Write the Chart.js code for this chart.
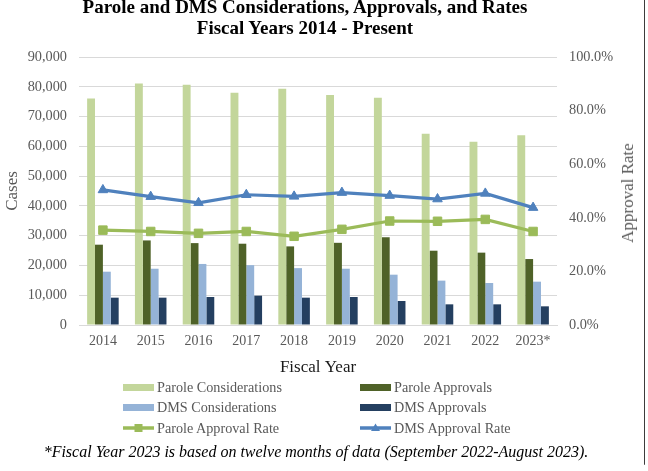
<!DOCTYPE html>
<html><head><meta charset="utf-8">
<script src="https://cdn.jsdelivr.net/npm/chart.js@4"></script>
<style>
body{margin:0;background:#fff;}
#wrap{position:relative;width:648px;height:471px;overflow:hidden;font-family:"Liberation Serif","Times New Roman",serif;background:#fff;}
canvas{position:absolute;left:0;top:0;}
#title{position:absolute;left:0;width:610px;top:-3px;text-align:center;font-weight:bold;font-size:19px;line-height:20.5px;color:#000;white-space:nowrap;}
.lg{position:absolute;height:16px;display:flex;align-items:center;font-size:14.2px;color:#595959;white-space:nowrap;}
.sw{width:31px;height:7px;margin-right:3px;}
.lg svg{margin-right:3px;}
#rt{position:absolute;left:628px;top:193px;transform:translate(-50%,-50%) rotate(-90deg);font-size:17px;color:#595959;white-space:nowrap;}
#fn{position:absolute;left:0;width:632px;top:443px;text-align:center;font-style:italic;font-size:16px;color:#000;white-space:nowrap;}
#frame{position:absolute;left:644px;top:-2px;width:0;height:467px;border-right:1.5px solid #3c3c3c;border-bottom-right-radius:3px;}
</style></head>
<body>
<div id="wrap">
<canvas id="c" width="648" height="471"></canvas>
<div id="title">Parole and DMS Considerations, Approvals, and Rates<br>Fiscal Years 2014 - Present</div>
<div id="rt">Approval Rate</div>
<div class="lg" style="left:123px;top:379px"><div class="sw" style="background:#c3d69b"></div>Parole Considerations</div>
<div class="lg" style="left:360px;top:379px"><div class="sw" style="background:#4f6228"></div>Parole Approvals</div>
<div class="lg" style="left:123px;top:399.5px"><div class="sw" style="background:#95b3d7"></div>DMS Considerations</div>
<div class="lg" style="left:360px;top:399.5px"><div class="sw" style="background:#243f60"></div>DMS Approvals</div>
<div class="lg" style="left:123px;top:420px"><svg width="31" height="12"><line x1="0" y1="6" x2="31" y2="6" stroke="#9bbb59" stroke-width="3.5"/><rect x="11.5" y="2" width="8" height="8" fill="#9bbb59"/></svg>Parole Approval Rate</div>
<div class="lg" style="left:360px;top:420px"><svg width="31" height="12"><line x1="0" y1="6" x2="31" y2="6" stroke="#4f81bd" stroke-width="3.5"/><polygon points="15.5,1.5 20,9 11,9" fill="#4f81bd"/></svg>DMS Approval Rate</div>
<div id="fn">*Fiscal Year 2023 is based on twelve months of data (September 2022-August 2023).</div>
<div id="frame"></div>
</div>
<script>
const years = ['2014','2015','2016','2017','2018','2019','2020','2021','2022','2023*'];
const paroleConsiderations = [76100, 81100, 80700, 78000, 79300, 77200, 76300, 64200, 61500, 63700];
const paroleApprovals = [26970, 28400, 27500, 27300, 26400, 27600, 29500, 24950, 24300, 22150];
const dmsConsiderations = [17900, 18900, 20500, 20100, 19100, 18900, 16900, 14900, 14100, 14550];
const dmsApprovals = [9180, 9180, 9400, 9850, 9180, 9400, 8060, 6940, 6940, 6270];
const paroleRate = [35.4, 34.9, 34.2, 34.9, 33.1, 35.7, 38.8, 38.7, 39.4, 34.9];
const dmsRate = [50.4, 47.9, 45.6, 48.6, 48.0, 49.4, 48.3, 47.0, 49.1, 43.8];
const casesTicks = {min: 0, max: 90000, step: 10000};
const rateTicks = {min: 0, max: 100, step: 20};

const FONT = 'Liberation Serif';
new Chart(document.getElementById('c'), {
  type: 'bar',
  data: {
    labels: years,
    datasets: [
      {label: 'Parole Considerations', data: paroleConsiderations, backgroundColor: '#c3d69b', yAxisID: 'y', order: 1},
      {label: 'Parole Approvals', data: paroleApprovals, backgroundColor: '#4f6228', yAxisID: 'y', order: 1},
      {label: 'DMS Considerations', data: dmsConsiderations, backgroundColor: '#95b3d7', yAxisID: 'y', order: 1},
      {label: 'DMS Approvals', data: dmsApprovals, backgroundColor: '#243f60', yAxisID: 'y', order: 1},
      {type: 'line', label: 'Parole Approval Rate', data: paroleRate, yAxisID: 'y1', order: 0,
        borderColor: '#9bbb59', backgroundColor: '#9bbb59', borderWidth: 3.2, tension: 0,
        pointStyle: 'rect', pointRadius: 6, pointBorderWidth: 1, pointBorderColor: '#9bbb59', pointBackgroundColor: '#9bbb59'},
      {type: 'line', label: 'DMS Approval Rate', data: dmsRate, yAxisID: 'y1', order: 0,
        borderColor: '#4f81bd', backgroundColor: '#4f81bd', borderWidth: 3.2, tension: 0,
        pointStyle: 'triangle', pointRadius: 5.5, pointBorderWidth: 1, pointBorderColor: '#4f81bd', pointBackgroundColor: '#4f81bd'}
    ]
  },
  options: {
    responsive: false,
    animation: false,
    devicePixelRatio: 1,
    layout: {padding: {left: 0, right: 0, top: 57, bottom: 93}},
    datasets: {bar: {categoryPercentage: 0.66, barPercentage: 1.0}},
    plugins: {
      legend: {display: false},
      tooltip: {enabled: false},
      title: {display: false}
    },
    scales: {
      x: {
        grid: {display: false},
        border: {display: true, color: '#d9d9d9', width: 1},
        ticks: {color: '#595959', font: {family: FONT, size: 14}, padding: 0},
        title: {display: true, text: 'Fiscal Year', color: '#1a1a1a', font: {family: FONT, size: 17}, padding: {top: 0, bottom: 0}},
        afterFit: s => { s.height = 53; }
      },
      y: {
        position: 'left',
        min: casesTicks.min, max: casesTicks.max,
        ticks: {stepSize: casesTicks.step, color: '#595959', font: {family: FONT, size: 14.3}, padding: 12,
          callback: v => v.toLocaleString('en-US')},
        grid: {color: '#d9d9d9', lineWidth: 1, drawTicks: false},
        border: {display: false},
        title: {display: true, text: 'Cases', color: '#595959', font: {family: FONT, size: 17}, padding: {top: 2, bottom: 0}},
        afterFit: s => { s.width = 79; }
      },
      y1: {
        position: 'right',
        min: rateTicks.min, max: rateTicks.max,
        ticks: {stepSize: rateTicks.step, color: '#595959', font: {family: FONT, size: 14.3}, padding: 12,
          callback: v => v.toFixed(1) + '%'},
        grid: {drawOnChartArea: false, drawTicks: false},
        border: {display: false},
        afterFit: s => { s.width = 91; }
      }
    }
  }
});
</script>
</body></html>
